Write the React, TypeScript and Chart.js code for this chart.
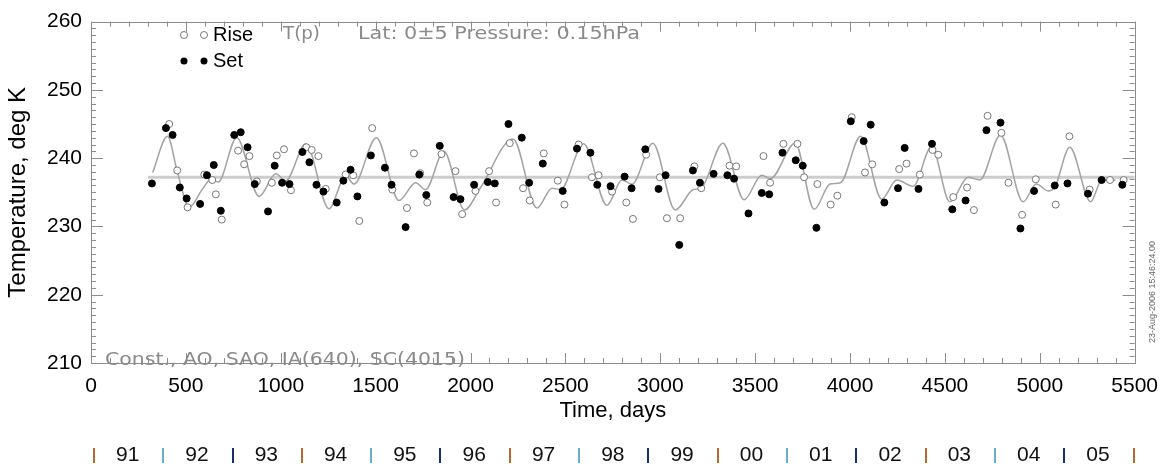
import React, { useEffect, useRef } from "react";
import { Chart, registerables } from "chart.js";

Chart.register(...registerables);

// ---- data ----
const setDays = [321, 395, 430, 468, 504, 575, 611, 647, 684, 755, 789, 825, 863, 933, 968, 1007, 1046, 1114, 1151, 1188, 1225, 1295, 1330, 1368, 1404, 1475, 1549, 1584, 1658, 1730, 1767, 1838, 1911, 1947, 2019, 2091, 2128, 2200, 2270, 2309, 2381, 2486, 2561, 2632, 2668, 2738, 2812, 2849, 2921, 2991, 3028, 3100, 3172, 3209, 3281, 3354, 3389, 3465, 3535, 3574, 3644, 3714, 3751, 3823, 4004, 4072, 4109, 4181, 4253, 4288, 4361, 4432, 4539, 4609, 4719, 4793, 4898, 4970, 5079, 5146, 5254, 5326, 5435];
const setTemps = [236.3, 244.4, 243.4, 235.7, 234.1, 233.3, 237.5, 239.0, 232.3, 243.4, 243.8, 241.6, 236.2, 232.2, 238.9, 236.4, 236.2, 240.9, 239.4, 236.1, 235.1, 233.5, 236.7, 238.3, 234.4, 240.4, 238.6, 236.1, 229.9, 237.6, 234.6, 241.8, 234.3, 234.0, 236.1, 236.5, 236.3, 245.0, 243.0, 236.4, 239.2, 235.2, 241.4, 240.8, 236.1, 235.9, 237.3, 235.6, 241.3, 235.5, 237.5, 227.3, 238.2, 236.4, 237.7, 237.5, 237.0, 231.9, 234.9, 234.7, 240.8, 239.7, 238.9, 229.8, 245.4, 242.5, 244.9, 233.5, 235.6, 241.5, 235.5, 242.1, 232.5, 233.8, 244.1, 245.2, 229.7, 235.2, 236.0, 236.3, 234.8, 236.8, 236.1];

const riseDays = [412, 454, 509, 597, 639, 658, 689, 775, 807, 835, 874, 953, 979, 1017, 1054, 1135, 1163, 1198, 1237, 1342, 1382, 1414, 1482, 1588, 1665, 1702, 1735, 1772, 1847, 1921, 1956, 2026, 2098, 2135, 2207, 2277, 2312, 2386, 2460, 2495, 2570, 2640, 2675, 2746, 2821, 2856, 2926, 2998, 3035, 3105, 3180, 3216, 3365, 3400, 3544, 3579, 3649, 3723, 3758, 3828, 3898, 3933, 4009, 4079, 4117, 4259, 4298, 4368, 4435, 4465, 4544, 4617, 4653, 4725, 4798, 4835, 4907, 4979, 5084, 5156, 5263, 5370, 5442];
const riseTemps = [245.0, 238.2, 232.8, 237.6, 236.8, 234.7, 231.0, 241.1, 239.1, 240.3, 236.6, 236.4, 240.4, 241.3, 235.3, 241.6, 241.2, 240.3, 235.5, 237.6, 237.5, 230.8, 244.4, 235.4, 232.7, 240.7, 237.8, 233.5, 240.6, 238.1, 231.8, 235.2, 238.1, 233.5, 242.2, 235.6, 233.8, 240.7, 236.7, 233.2, 242.0, 237.2, 237.5, 235.1, 233.5, 231.1, 240.5, 237.2, 231.2, 231.2, 238.8, 235.6, 238.9, 238.8, 240.3, 236.4, 242.1, 242.1, 237.2, 236.2, 233.2, 234.5, 246.0, 237.9, 239.1, 238.4, 239.2, 237.6, 241.2, 240.5, 234.3, 235.7, 232.4, 246.2, 243.7, 236.4, 231.7, 236.9, 233.2, 243.2, 235.4, 236.8, 236.8];

// fitted curve (Const., AO, SAO, IA(640), SC(4015)) read at its turning points
const fitDays = [325, 403, 456, 517, 588, 632, 670, 768, 886, 974, 1026, 1132, 1254, 1342, 1386, 1504, 1623, 1711, 1763, 1860, 1968, 2053, 2224, 2350, 2430, 2474, 2596, 2719, 2798, 2851, 2961, 3079, 3175, 3215, 3330, 3442, 3535, 3580, 3711, 3811, 3895, 3950, 4056, 4167, 4246, 4333, 4430, 4526, 4623, 4684, 4793, 4912, 4982, 5044, 5080, 5158, 5268, 5325, 5400];
const fitTemps = [237.9, 243.2, 237.9, 232.8, 235.5, 236.9, 236.5, 243.0, 234.4, 237.7, 236.7, 242.1, 232.6, 237.4, 236.2, 243.0, 233.8, 236.4, 235.4, 241.0, 232.4, 235.7, 242.8, 232.7, 235.6, 235.4, 242.1, 233.1, 236.8, 236.2, 242.2, 232.4, 235.4, 235.6, 242.2, 233.9, 237.5, 237.0, 242.2, 232.5, 236.2, 236.4, 243.2, 234.0, 236.8, 235.9, 241.7, 233.6, 237.2, 236.8, 243.4, 233.6, 236.2, 235.2, 235.8, 241.6, 233.6, 236.7, 236.8];

const constDays = [300, 5500];
const constTemp = 237.2;

const yearStartDays = [0, 365, 731, 1096, 1461, 1826, 2192, 2557, 2922, 3287, 3653, 4018, 4383, 4748, 5114, 5479];
const yearLabels = ["91", "92", "93", "94", "95", "96", "97", "98", "99", "00", "01", "02", "03", "04", "05"];
const yearBarColors = ["#b8682a", "#6aa8cc", "#1c2c7a"];

const xMin = 0, xMax = 5500, xStep = 500, xMinor = 100;
const yMin = 210, yMax = 260, yStep = 10, yMinor = 1;

const titleText = "T(p)";
const infoText = "Lat: 0\u00b15 Pressure: 0.15hPa";
const modelText = "Const., AO, SAO, IA(640), SC(4015)";
const stampText = "23-Aug-2006 15:46:24.00";

const W = 1169, H = 474;
const FONT = "'Liberation Sans', Arial, Helvetica, sans-serif";

function fitText(ctx: CanvasRenderingContext2D, text: string, x: number, y: number, w: number) {
  const m = ctx.measureText(text).width;
  ctx.save();
  ctx.translate(x, y);
  ctx.scale(w / m, 1);
  ctx.fillText(text, 0, 0);
  ctx.restore();
}

const overlay = {
  id: "overlay",
  beforeDatasetsDraw(chart: any) {
    const { ctx, chartArea: a, scales } = chart;
    const xs = scales.x, ys = scales.y;
    ctx.save();
    ctx.strokeStyle = "#8c8c8c";
    ctx.lineWidth = 1;
    ctx.strokeRect(Math.round(a.left) + 0.5, Math.round(a.top) + 0.5, Math.round(a.right - a.left), Math.round(a.bottom - a.top));
    ctx.beginPath();
    for (let v = yMin; v <= yMax; v += yMinor) {
      const y = Math.round(ys.getPixelForValue(v)) + 0.5;
      const len = v % yStep === 0 ? 12 : 5;
      ctx.moveTo(a.left, y); ctx.lineTo(a.left + len, y);
      ctx.moveTo(a.right, y); ctx.lineTo(a.right - len, y);
    }
    for (let d = xMin; d <= xMax; d += xMinor) {
      const x = Math.round(xs.getPixelForValue(d)) + 0.5;
      const len = d % xStep === 0 ? 10 : 5;
      ctx.moveTo(x, a.bottom); ctx.lineTo(x, a.bottom - len);
      ctx.moveTo(x, a.top); ctx.lineTo(x, a.top + len);
    }
    ctx.stroke();
    ctx.restore();
  },
  afterDraw(chart: any) {
    const { ctx, scales } = chart;
    const xs = scales.x;
    ctx.save();
    // legend
    const drawOpen = (x: number, y: number) => {
      ctx.beginPath(); ctx.arc(x, y, 3.5, 0, Math.PI * 2);
      ctx.fillStyle = "#fff"; ctx.fill();
      ctx.strokeStyle = "#777"; ctx.lineWidth = 1; ctx.stroke();
    };
    const drawFilled = (x: number, y: number) => {
      ctx.beginPath(); ctx.arc(x, y, 3.5, 0, Math.PI * 2);
      ctx.fillStyle = "#000"; ctx.fill();
    };
    drawOpen(184, 35); drawOpen(204, 35);
    drawFilled(184, 61); drawFilled(204, 61);
    ctx.fillStyle = "#000";
    ctx.font = `20px ${FONT}`;
    ctx.textBaseline = "middle";
    ctx.textAlign = "left";
    ctx.fillText("Rise", 213, 35);
    ctx.fillText("Set", 213, 61);

    // gray annotations
    ctx.fillStyle = "#8a8a8a";
    ctx.font = `17px 'DejaVu Sans', sans-serif`;
    ctx.textBaseline = "alphabetic";
    fitText(ctx, titleText, 283, 39, 37);
    fitText(ctx, infoText, 358, 39, 282);
    fitText(ctx, modelText, 105, 365, 360);

    // timestamp
    ctx.save();
    ctx.translate(1153, 292);
    ctx.rotate(-Math.PI / 2);
    ctx.font = `9px ${FONT}`;
    ctx.fillStyle = "#666";
    ctx.textAlign = "center";
    ctx.textBaseline = "middle";
    ctx.fillText(stampText, 0, 0);
    ctx.restore();

    // year row
    ctx.font = `21px ${FONT}`;
    ctx.textAlign = "center";
    ctx.textBaseline = "middle";
    const yy = 455;
    yearStartDays.forEach((d, i) => {
      const x = Math.round(xs.getPixelForValue(d)) + 2;
      ctx.fillStyle = yearBarColors[i % 3];
      ctx.fillRect(x, yy - 7, 2, 15);
    });
    ctx.fillStyle = "#111";
    yearLabels.forEach((lab, i) => {
      const x = (xs.getPixelForValue(yearStartDays[i]) + xs.getPixelForValue(yearStartDays[i + 1])) / 2 + 2;
      ctx.fillText(lab, x, yy);
    });
    ctx.restore();
  },
};

export default function App() {
  const ref = useRef<HTMLCanvasElement | null>(null);
  useEffect(() => {
    document.body.style.margin = "0";
    const canvas = ref.current!;
    const chart = new Chart(canvas, {
      type: "scatter",
      data: {
        datasets: [
          {
            type: "line",
            data: constDays.map((d) => ({ x: d, y: constTemp })),
            borderColor: "#cdcdcd",
            borderWidth: 3,
            pointRadius: 0,
            order: 4,
          } as any,
          {
            type: "line",
            data: fitDays.map((d, i) => ({ x: d, y: fitTemps[i] })),
            borderColor: "#a3a3a3",
            borderWidth: 1.5,
            pointRadius: 0,
            cubicInterpolationMode: "monotone",
            order: 3,
          } as any,
          {
            label: "Rise",
            data: riseDays.map((d, i) => ({ x: d, y: riseTemps[i] })),
            pointRadius: 3.5,
            backgroundColor: "#ffffff",
            borderColor: "#777777",
            borderWidth: 1,
            order: 2,
          },
          {
            label: "Set",
            data: setDays.map((d, i) => ({ x: d, y: setTemps[i] })),
            pointRadius: 3.5,
            backgroundColor: "#000000",
            borderColor: "#000000",
            borderWidth: 1,
            order: 1,
          },
        ],
      },
      options: {
        responsive: false,
        animation: false,
        devicePixelRatio: 1,
        layout: { padding: { left: 0, top: 17, right: 34, bottom: 0 } },
        plugins: { legend: { display: false }, tooltip: { enabled: false } },
        scales: {
          x: {
            type: "linear",
            min: xMin,
            max: xMax,
            grid: { display: false, drawTicks: false },
            border: { display: false },
            ticks: {
              stepSize: xStep,
              autoSkip: false,
              maxRotation: 0,
              padding: 11,
              color: "#000",
              font: { family: FONT, size: 21 },
              callback: (v: any) => String(v),
            },
            title: {
              display: true,
              text: "Time, days",
              color: "#000",
              font: { family: FONT, size: 22 },
              padding: { top: 0, bottom: 50 },
            },
            afterFit: (s: any) => { s.height = H - 363; },
          },
          y: {
            type: "linear",
            min: yMin,
            max: yMax,
            grid: { display: false, drawTicks: false },
            border: { display: false },
            ticks: {
              stepSize: yStep,
              padding: 9,
              color: "#000",
              font: { family: FONT, size: 21 },
            },
            title: {
              display: true,
              text: "Temperature, deg K",
              color: "#000",
              font: { family: FONT, size: 24 },
              padding: { top: 4, bottom: 0 },
            },
            afterFit: (s: any) => { s.width = 91; },
          },
        },
      },
      plugins: [overlay],
    });
    return () => chart.destroy();
  }, []);
  return (
    <div style={{ position: "absolute", left: 0, top: 0, width: W, height: H }}>
      <canvas ref={ref} width={W} height={H} style={{ width: W, height: H, display: "block" }} />
    </div>
  );
}
